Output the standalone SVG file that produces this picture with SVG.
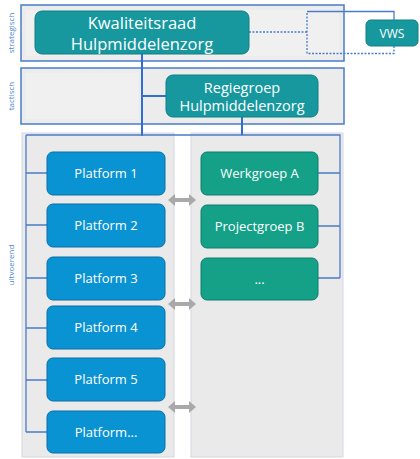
<svg xmlns="http://www.w3.org/2000/svg" width="420" height="459" viewBox="0 0 420 459">
  <style>
    .band { fill: #ececec; stroke: #4a7cc9; stroke-width: 1.5; }
    .inner { fill: #f1f0f0; }
    .panel { fill: #eaeaea; stroke: #d3d8e2; stroke-width: 1; }
    .teal { fill: #17989f; stroke: #137c84; stroke-width: 1; }
    .blue { fill: #0a93d2; stroke: #0a6fa6; stroke-width: 1; }
    .green { fill: #14a188; stroke: #0f7d6c; stroke-width: 1; }
    .t { font-family: "Open Sans", "DejaVu Sans", sans-serif; fill: #ffffff; text-anchor: middle; }
    .side { font-family: "Open Sans", "DejaVu Sans", sans-serif; fill: #4f86cf; font-size: 8px; text-anchor: middle; }
    .line { stroke: #2f6fd0; stroke-width: 2; fill: none; }
    .thin { stroke: #4a7cc9; stroke-width: 1.3; fill: none; }
    .dash { stroke: #4a7cc9; stroke-width: 1.3; fill: none; stroke-dasharray: 2 1.5; }
    .arrow { fill: #a9a9a9; }
  </style>

  <!-- level bands -->
  <g id="band-strategisch">
    <rect class="band" x="21" y="5" width="323" height="56"/>
    <rect class="inner" x="26" y="10" width="313" height="46"/>
    <text class="side" transform="translate(14,33) rotate(-90)">strategisch</text>
  </g>
  <g id="band-tactisch">
    <rect class="band" x="21" y="68" width="323" height="56"/>
    <rect class="inner" x="26" y="73" width="112" height="46"/>
    <text class="side" transform="translate(14,96) rotate(-90)">tactisch</text>
  </g>
  <g id="band-uitvoerend">
    <rect class="panel" x="22" y="133" width="152" height="324"/>
    <rect class="panel" x="191" y="133" width="152" height="324"/>
    <text class="side" transform="translate(14,265) rotate(-90)">uitvoerend</text>
  </g>

  <!-- connectors -->
  <g id="connectors">
    <path class="line" d="M142,54 V136 M142,96 H166 M242,117 V135"/>
    <path class="thin" d="M26,135 H340 V278 M26,135 V432"/>
    <path class="thin" d="M26,173 H47 M26,225 H47 M26,278 H47 M26,328 H47 M26,380 H47 M26,432 H47"/>
    <path class="thin" d="M318,173 H340 M318,226 H340 M318,278 H340"/>
    <path class="dash" d="M249,32 H307"/>
    <path class="thin" d="M307,11.5 H394 V46"/>
    <path class="dash" d="M394,46 V53.5 H307 V11.5"/>
    <g class="arrow">
      <path d="M168,200 L175,194 V198 H189 V194 L196,200 L189,206 V202 H175 V206 Z"/>
      <path d="M168,304 L175,298 V302 H189 V298 L196,304 L189,310 V306 H175 V310 Z"/>
      <path d="M168,407 L175,401 V405 H189 V401 L196,407 L189,413 V409 H175 V413 Z"/>
    </g>
  </g>

  <!-- strategic level -->
  <g id="kwaliteitsraad">
    <rect class="teal" x="35" y="11" width="214" height="43" rx="7"/>
    <text class="t" x="142" y="29" font-size="16.5">Kwaliteitsraad</text>
    <text class="t" x="142" y="50" font-size="16.5">Hulpmiddelenzorg</text>
  </g>
  <g id="vws">
    <rect class="teal" x="366" y="20" width="52" height="26" rx="5"/>
    <text class="t" x="392" y="37.5" font-size="12">VWS</text>
  </g>

  <!-- tactical level -->
  <g id="regiegroep">
    <rect class="teal" x="166" y="75" width="152" height="42" rx="7"/>
    <text class="t" x="242" y="93" font-size="14.5">Regiegroep</text>
    <text class="t" x="242" y="111" font-size="14.5">Hulpmiddelenzorg</text>
  </g>

  <!-- operational level: platforms -->
  <g id="platform-1">
    <rect class="blue" x="47" y="152" width="118" height="43" rx="6"/>
    <text class="t" x="106" y="178" font-size="13">Platform 1</text>
  </g>
  <g id="platform-2">
    <rect class="blue" x="47" y="204" width="118" height="43" rx="6"/>
    <text class="t" x="106" y="230" font-size="13">Platform 2</text>
  </g>
  <g id="platform-3">
    <rect class="blue" x="47" y="257" width="118" height="43" rx="6"/>
    <text class="t" x="106" y="283" font-size="13">Platform 3</text>
  </g>
  <g id="platform-4">
    <rect class="blue" x="47" y="306" width="118" height="43" rx="6"/>
    <text class="t" x="106" y="332" font-size="13">Platform 4</text>
  </g>
  <g id="platform-5">
    <rect class="blue" x="47" y="358" width="118" height="43" rx="6"/>
    <text class="t" x="106" y="384" font-size="13">Platform 5</text>
  </g>
  <g id="platform-more">
    <rect class="blue" x="47" y="411" width="118" height="42" rx="6"/>
    <text class="t" x="106" y="437" font-size="13">Platform...</text>
  </g>

  <!-- operational level: working groups -->
  <g id="werkgroep-a">
    <rect class="green" x="201" y="152" width="117" height="43" rx="6"/>
    <text class="t" x="259.5" y="178" font-size="13">Werkgroep A</text>
  </g>
  <g id="projectgroep-b">
    <rect class="green" x="201" y="205" width="117" height="43" rx="6"/>
    <text class="t" x="259.5" y="231" font-size="13">Projectgroep B</text>
  </g>
  <g id="groep-more">
    <rect class="green" x="201" y="258" width="117" height="42" rx="6"/>
    <text class="t" x="259.5" y="284" font-size="13">...</text>
  </g>
</svg>
